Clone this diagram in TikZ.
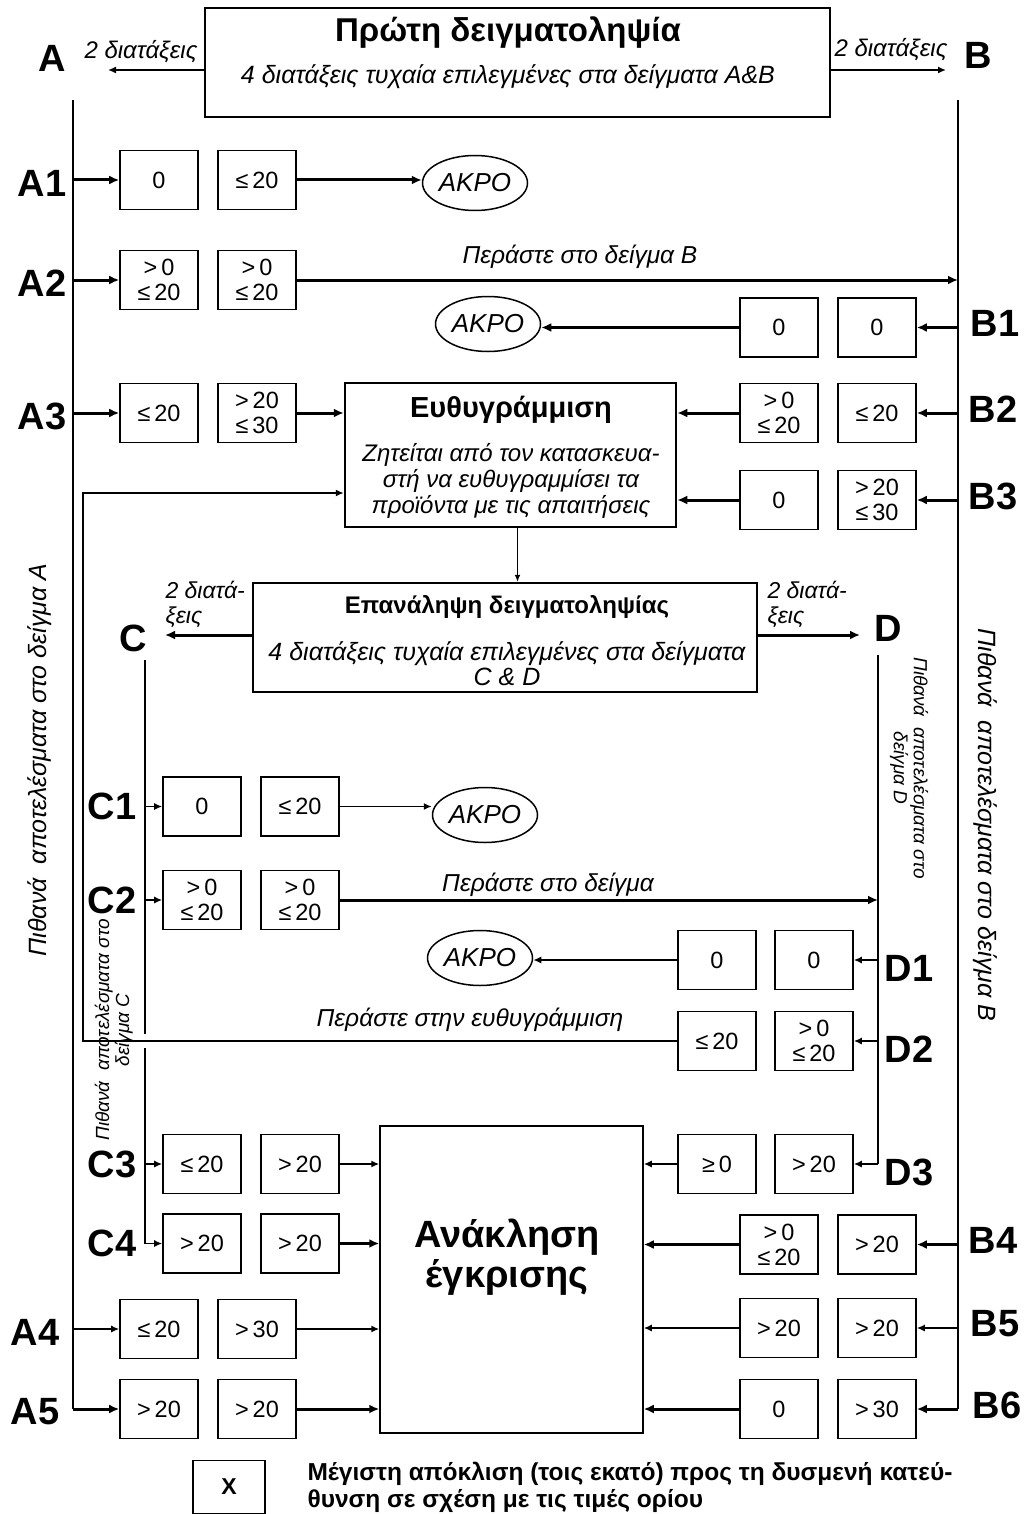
\documentclass[tikz,border=0pt]{standalone}
\usepackage{fontspec}
\setmainfont{Liberation Sans}
\usetikzlibrary{positioning, shapes.geometric, arrows.meta, calc}
\newcommand{\fsz}[2]{\fontsize{#1}{#2}\selectfont}

\begin{document}
\begin{tikzpicture}[x=1pt, y=-1pt,
  cell/.style={draw, line width=1.6pt, minimum width=78pt, minimum height=59pt, inner sep=1pt, align=center, font=\fsz{23.5}{25}},
  bigbox/.style={draw, line width=2.5pt},
  tag/.style={font=\bfseries\fsz{38}{38}},
  akro/.style={draw, ellipse, line width=1.5pt, minimum width=105pt, minimum height=55pt, inner sep=0pt, font=\itshape\fsz{26}{26}},
  bus/.style={line width=2pt},
  thk/.style={line width=3pt, -{Latex[length=10pt,width=9pt]}},
  thn/.style={line width=1.5pt, -{Latex[length=8pt,width=7pt]}},
  note/.style={font=\itshape\fsz{24.5}{26}, align=center}]

\useasboundingbox (0,0) rectangle (1024,1514);

% First sampling
\node[bigbox, minimum width=625pt, minimum height=109pt] (first) at (517.5,62.5) {};
\node[font=\bfseries\fsz{33}{33}] (firsttitle) at (508,33) {Πρώτη δειγματοληψία};
\node[note, font=\itshape\fsz{25}{25}] (firstsub) at (508,77) {4 διατάξεις τυχαία επιλεγμένες στα δείγματα A\&B};
\node[tag] (labA) at (52,58) {A};
\node[tag] (labB) at (978,55) {B};
\node[note, font=\itshape\fsz{24}{24}] (twoA) at (141,52) {2 διατάξεις};
\node[note, font=\itshape\fsz{24}{24}] (twoB) at (891,50) {2 διατάξεις};
\coordinate (endA) at (108,70);
\coordinate (endB) at (946,70);
\draw[thn] (first.west |- endA) -- (endA);
\draw[thn] (first.east |- endB) -- (endB);

% buses
\coordinate (busA) at (73,100);
\coordinate (busB) at (958,100);
\coordinate (busC) at (145,660);
\coordinate (busD) at (878,655);

% Alignment box
\node[bigbox, minimum width=331pt, minimum height=144pt] (align) at (510.5,455) {};
\node[font=\bfseries\fsz{29}{29}] (aligntitle) at (511,410) {Ευθυγράμμιση};
\node[note, font=\itshape\fsz{24}{26}] (aligntext) at (511,481) {Ζητείται από τον κατασκευα-\\στή να ευθυγραμμίσει τα\\προϊόντα με τις απαιτήσεις};

% Repeat sampling
\node[bigbox, minimum width=504pt, minimum height=109pt] (repeat) at (505,637.5) {};
\node[font=\bfseries\fsz{24}{24}] (repeattitle) at (507,607) {Επανάληψη δειγματοληψίας};
\node[note, font=\itshape\fsz{25}{25}] (repeatsub) at (507,664) {4 διατάξεις τυχαία επιλεγμένες στα δείγματα\\C \& D};
\coordinate (alignout) at ($(align.south)+(7,0)$);
\draw[line width=1.2pt, -{Latex[length=7pt,width=6pt]}] (alignout) -- (alignout |- repeat.north);
\node[tag] (labC) at (133,638) {C};
\node[tag] (labD) at (888,628) {D};
\node[note, font=\itshape\fsz{23}{25}, align=left, anchor=west] (twoC) at (162,604) {2 διατά-\\ξεις};
\node[note, font=\itshape\fsz{23}{25}, align=left, anchor=west] (twoD) at (764,604) {2 διατά-\\ξεις};
\coordinate (endC) at (165,635);
\coordinate (endD) at (860,635);
\draw[thk] (repeat.west |- endC) -- (endC);
\draw[thk] (repeat.east |- endD) -- (endD);

% Recall of approval
\node[draw, line width=1.5pt, minimum width=263pt, minimum height=307pt] (recall) at (511.5,1279.5) {};
\node[font=\bfseries\fsz{38}{40}, align=center] (recalltext) at (507,1257) {Ανάκληση\\έγκρισης};

% ΑΚΡΟ
\node[akro] (akro1) at (475,183) {ΑΚΡΟ};
\node[akro] (akro2) at (488,324) {ΑΚΡΟ};
\node[akro] (akro3) at (485,815) {ΑΚΡΟ};
\node[akro] (akro4) at (480,958) {ΑΚΡΟ};

% Sample A
\foreach \n/\y/\lx/\s/\l/\r in {A1/180/42/thk/0/≤\,20, A2/280/42/thk/{>\,0\\≤\,20}/{>\,0\\≤\,20}, A3/413/42/thk/≤\,20/{>\,20\\≤\,30}, A4/1329/35/thn/≤\,20/>\,30, A5/1409/35/thk/>\,20/>\,20} {
    \node[cell] (\n-l) at (159,\y) {\l};
    \node[cell] (\n-r) at (257,\y) {\r};
    \node[tag] (lab\n) at (\lx,\y+3) {\n};
    \draw[\s] (busA |- \n-l.west) -- (\n-l.west);
}
% Sample B
\foreach \n/\y/\lx/\s/\l/\r in {B1/327.5/995/thk/0/0, B2/413/993/thk/{>\,0\\≤\,20}/≤\,20, B3/500/993/thk/0/{>\,20\\≤\,30}, B4/1244.5/993/thk/{>\,0\\≤\,20}/>\,20, B5/1328/995/thn/>\,20/>\,20, B6/1409/997/thk/0/>\,30} {
    \node[cell] (\n-l) at (779,\y) {\l};
    \node[cell] (\n-r) at (877,\y) {\r};
    \node[tag] (lab\n) at (\lx,\y-4) {\n};
    \draw[\s] (busB |- \n-r.east) -- (\n-r.east);
}
% Sample C
\foreach \n/\y/\l/\r in {C1/806.5/0/≤\,20, C2/900/{>\,0\\≤\,20}/{>\,0\\≤\,20}, C3/1164/≤\,20/>\,20, C4/1243.5/>\,20/>\,20} {
    \node[cell] (\n-l) at (202,\y) {\l};
    \node[cell] (\n-r) at (300,\y) {\r};
    \node[tag] (lab\n) at (112,\y) {\n};
    \draw[thn] (busC |- \n-l.west) -- (\n-l.west);
}
% Sample D
\foreach \n/\y/\l/\r in {D1/960/0/0, D2/1041/≤\,20/{>\,0\\≤\,20}, D3/1164/≥\,0/>\,20} {
    \node[cell] (\n-l) at (717,\y) {\l};
    \node[cell] (\n-r) at (814,\y) {\r};
    \node[tag] (lab\n) at (909,\y+8) {\n};
    \draw[thn] (busD |- \n-r.east) -- (\n-r.east);
}

% bus lines
\draw[bus] (busA) -- (busA |- A5-l.west);
\draw[bus] (busB) -- (busB |- B6-r.east);
\draw[bus] (busC) -- ($(busC |- D2-l.west)+(0,-7)$);
\draw[bus] ($(busC |- D2-l.west)+(0,7)$) -- (busC |- C4-l.west);
\draw[bus] (busD) -- (busD |- D3-r.east);

% results of A and B
\draw[thk] (A1-r.east) -- (A1-r.east -| akro1.west);
\draw[thk] (A2-r.east) -- (A2-r.east -| busB);
\node[note] (passB) at (580,257) {Περάστε στο δείγμα B};
\draw[thk] (B1-l.west) -- (B1-l.west -| akro2.east);
\draw[thk] (A3-r.east) -- (align.west |- A3-r.east);
\draw[thk] (B2-l.west) -- (align.east |- B2-l.west);
\draw[thk] (B3-l.west) -- (align.east |- B3-l.west);
\draw[thn] (A4-r.east) -- (recall.west |- A4-r.east);
\draw[thk] (A5-r.east) -- (recall.west |- A5-r.east);
\draw[thk] (B4-l.west) -- (recall.east |- B4-l.west);
\draw[thn] (B5-l.west) -- (recall.east |- B5-l.west);
\draw[thk] (B6-l.west) -- (recall.east |- B6-l.west);

% results of C and D
\draw[thn] (C1-r.east) -- (C1-r.east -| akro3.west);
\draw[thk] (C2-r.east) -- (C2-r.east -| busD);
\node[note] (passD) at (548,885) {Περάστε στο δείγμα};
\draw[thn] (D1-l.west) -- (D1-l.west -| akro4.east);
\coordinate (retUp) at (83,493);
\draw[thn] (D2-l.west) -- (D2-l.west -| retUp) -- (retUp) -- (retUp -| align.west);
\node[note] (passAlign) at (470,1020) {Περάστε στην ευθυγράμμιση};
\draw[thn] (C3-r.east) -- (recall.west |- C3-r.east);
\draw[thk] (C4-r.east) -- (recall.west |- C4-r.east);
\draw[thn] (D3-l.west) -- (recall.east |- D3-l.west);

% possible results
\node[note, rotate=90, font=\itshape\fsz{25}{25}] (possA) at (40,760) {Πιθανά\ \ αποτελέσματα στο δείγμα A};
\node[note, rotate=-90, font=\itshape\fsz{25}{25}] (possB) at (985,825) {Πιθανά\ \ αποτελέσματα στο δείγμα B};
\node[note, rotate=90, font=\itshape\fsz{19}{20}] (possC) at (114,1030) {Πιθανά\ \ αποτελέσματα στο\\δείγμα C};
\node[note, rotate=-90, font=\itshape\fsz{19}{20}] (possD) at (909,768) {Πιθανά\ \ αποτελέσματα στο\\δείγμα D};

% legend
\node[draw, line width=1.5pt, minimum width=72pt, minimum height=53pt, font=\bfseries\fsz{23}{23}] (legX) at (229,1487) {X};
\node[anchor=west, align=left, font=\bfseries\fsz{24.5}{27}] (legtext) at (304,1487) {Μέγιστη απόκλιση (τοις εκατό) προς τη δυσμενή κατεύ-\\θυνση σε σχέση με τις τιμές ορίου};

\end{tikzpicture}
\end{document}
